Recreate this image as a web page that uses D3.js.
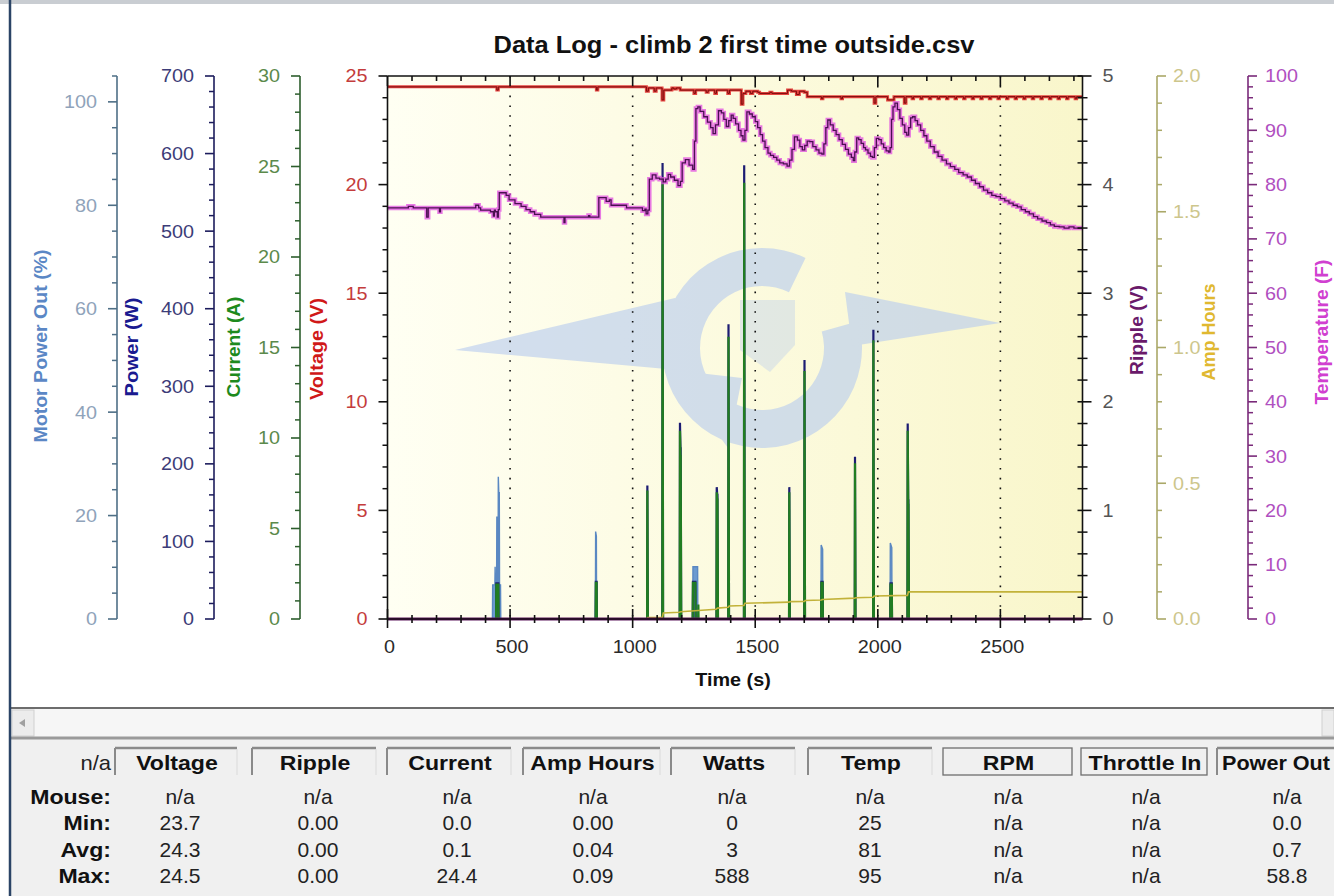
<!DOCTYPE html>
<html>
<head>
<meta charset="utf-8">
<script src="https://cdn.jsdelivr.net/npm/d3@7/dist/d3.min.js"></script>
<style>
html,body{margin:0;padding:0;background:#fff;}
svg{display:block;}
text{font-family:Arial,"Liberation Sans",Helvetica,sans-serif;}
</style>
</head>
<body>
<svg id="chart" width="1334" height="896"></svg>
<script>
// ---------------- data ----------------
const chartTitle = "Data Log - climb 2 first time outside.csv";
const timeDomain = [0, 2835];
const timeTicks = [0, 500, 1000, 1500, 2000, 2500];

// [time s, volts]
const voltageSeries = [[0,24.5],[446,24.35],[452,24.5],[852,24.35],[858,24.5],[1056,24.3],[1064,24.45],[1088,24.3],[1096,24.45],[1120,23.9],[1127,24.35],[1160,24.45],[1168,24.4],[1178,24.45],[1194,24.35],[1250,24.2],[1257,24.35],[1300,24.25],[1308,24.35],[1335,24.2],[1342,24.35],[1388,24.2],[1395,24.35],[1443,23.7],[1450,24.2],[1462,24.3],[1480,24.2],[1490,24.3],[1510,24.25],[1518,24.2],[1560,24.25],[1568,24.2],[1632,24.35],[1648,24.3],[1668,24.15],[1680,24.3],[1700,24.25],[1712,24.05],[1770,23.95],[1776,24.05],[1850,23.95],[1856,24.05],[1985,23.75],[1992,24.05],[2040,23.9],[2066,24.05],[2108,23.75],[2115,24.05],[2140,23.95],[2146,24.05],[2175,23.95],[2181,24.05],[2210,23.95],[2216,24.05],[2245,23.95],[2251,24.05],[2280,23.95],[2286,24.05],[2315,23.95],[2321,24.05],[2350,23.95],[2356,24.05],[2385,23.95],[2391,24.05],[2420,23.95],[2426,24.05],[2455,23.95],[2461,24.05],[2490,23.95],[2496,24.05],[2525,23.95],[2531,24.05],[2560,23.95],[2566,24.05],[2595,23.95],[2601,24.05],[2630,23.95],[2636,24.05],[2665,23.95],[2671,24.05],[2700,23.95],[2706,24.05],[2735,23.95],[2741,24.05],[2770,23.95],[2776,24.05],[2805,23.95],[2811,24.05],[2835,24.05]];

// [time s, deg F]
const temperatureSeries = [[0,75.7],[80,75.7],[85,76.0],[105,75.7],[160,74.0],[166,75.7],[212,75.0],[216,75.7],[350,75.7],[360,76.2],[372,75.7],[380,75.3],[420,75.0],[432,74.2],[436,75.3],[440,75.0],[448,74.0],[452,75.4],[456,78.5],[476,78.5],[484,78.0],[496,77.2],[520,76.5],[545,76.0],[565,75.4],[582,75.0],[600,74.5],[625,74.0],[715,74.0],[720,73.0],[724,74.0],[815,74.0],[820,74.3],[825,74.0],[855,74.0],[862,77.6],[888,77.6],[892,76.9],[905,77.2],[912,76.2],[960,76.2],[975,75.7],[1030,75.7],[1040,75.2],[1050,75.5],[1055,74.6],[1062,75.3],[1068,81.0],[1080,81.8],[1095,81.2],[1110,81.0],[1125,80.5],[1135,81.0],[1145,81.9],[1155,81.4],[1170,80.8],[1185,79.8],[1195,80.6],[1202,84.0],[1215,84.6],[1230,83.6],[1245,82.8],[1252,88.0],[1258,94.0],[1266,94.3],[1275,93.5],[1290,92.5],[1305,91.5],[1318,90.5],[1328,89.4],[1338,91.0],[1350,93.6],[1362,93.2],[1372,92.0],[1382,90.7],[1392,91.8],[1402,92.8],[1410,92.2],[1420,91.2],[1432,90.0],[1442,89.0],[1450,88.2],[1458,90.0],[1466,93.4],[1476,93.0],[1488,92.5],[1500,91.6],[1510,90.5],[1520,89.2],[1530,88.0],[1540,86.8],[1552,85.8],[1562,85.4],[1575,85.0],[1588,84.5],[1600,84.0],[1615,83.8],[1630,83.4],[1640,84.5],[1650,86.5],[1660,88.8],[1672,88.2],[1682,87.0],[1692,86.4],[1702,87.2],[1712,88.0],[1722,87.9],[1735,87.0],[1748,86.4],[1760,85.8],[1772,85.6],[1780,87.5],[1788,90.5],[1796,91.9],[1806,91.0],[1818,90.0],[1830,89.2],[1842,88.3],[1855,87.4],[1868,86.5],[1880,85.6],[1892,85.0],[1900,84.4],[1906,86.0],[1914,88.6],[1922,88.3],[1932,87.6],[1942,86.8],[1950,86.4],[1960,85.8],[1970,85.2],[1978,85.0],[1986,86.8],[1994,88.5],[2004,88.3],[2014,87.5],[2024,86.8],[2034,86.2],[2044,86.0],[2050,86.8],[2056,92.0],[2062,94.3],[2070,95.0],[2080,93.8],[2090,92.2],[2100,91.0],[2110,89.6],[2118,89.1],[2126,90.5],[2134,92.3],[2142,92.5],[2152,91.8],[2162,91.0],[2175,90.0],[2188,89.0],[2200,88.0],[2214,87.0],[2230,86.0],[2246,85.2],[2262,84.5],[2280,83.8],[2296,83.3],[2314,82.8],[2330,82.2],[2348,81.8],[2365,81.4],[2382,80.8],[2398,80.2],[2415,79.6],[2431,79.0],[2448,78.5],[2465,78.0],[2482,77.8],[2500,77.4],[2518,77.0],[2535,76.6],[2552,76.2],[2569,75.9],[2585,75.4],[2602,75.0],[2618,74.6],[2635,74.1],[2652,73.7],[2670,73.3],[2688,73.0],[2704,72.6],[2720,72.3],[2740,72.2],[2760,72.0],[2780,72.2],[2800,72.0],[2835,72.0]];

// [time s, amps]
const currentSeries = [[0,0],[443,0],[444,1.9],[452,1.9],[453,0],[849,0],[850,2.0],[853,2.0],[854,0],[1059,0],[1060,7.1],[1062,0],[1121,0],[1122,24.4],[1124,0],[1192,0],[1193,10.4],[1195,9.0],[1196,9.0],[1198,0],[1245,0],[1246,2.0],[1256,2.0],[1257,0],[1267,0],[1268,0.8],[1269,0],[1342,0],[1343,7.0],[1345,6.6],[1346,6.6],[1348,0],[1390,0],[1391,15.6],[1393,0],[1454,0],[1455,24.1],[1457,0],[1638,0],[1639,7.0],[1641,0],[1700,0],[1701,13.7],[1703,0],[1769,0],[1770,2.0],[1775,2.0],[1776,0],[1906,0],[1907,8.6],[1909,0],[1981,0],[1982,15.4],[1984,0],[2051,0],[2052,1.9],[2057,1.9],[2058,0],[2121,0],[2122,10.4],[2124,6.3],[2125,6.3],[2127,0],[2835,0]];

// [time s, watts]
const wattsSeries = [[0,0],[443,0],[444,46],[452,46],[453,0],[849,0],[850,48],[853,48],[854,0],[1059,0],[1060,172],[1062,0],[1121,0],[1122,588],[1124,0],[1192,0],[1193,253],[1195,220],[1196,220],[1198,0],[1245,0],[1246,48],[1256,48],[1257,0],[1342,0],[1343,170],[1345,160],[1346,160],[1348,0],[1390,0],[1391,380],[1393,0],[1454,0],[1455,585],[1457,0],[1638,0],[1639,170],[1641,0],[1700,0],[1701,334],[1703,0],[1769,0],[1770,48],[1775,48],[1776,0],[1906,0],[1907,209],[1909,0],[1981,0],[1982,373],[1984,0],[2051,0],[2052,46],[2057,46],[2058,0],[2121,0],[2122,252],[2124,153],[2125,153],[2127,0],[2835,0]];

// [time s, motor power out %]
const powerOutSeries = [[0,0],[428,0],[429,6.6],[438,6.6],[439,10.1],[440,6.6],[445,6.6],[446,19.8],[447,6.6],[451,6.6],[452,27.5],[454,24.4],[456,24.4],[457,6.6],[461,6.6],[462,0],[848,0],[849,16.9],[852,16.0],[853,0],[1059,0],[1060,8.9],[1061,0],[1245,0],[1246,10.1],[1265,10.1],[1266,0],[1390,0],[1391,8.1],[1392,0],[1454,0],[1455,7.0],[1456,0],[1768,0],[1769,14.3],[1775,13.5],[1776,0],[2050,0],[2051,14.7],[2057,13.8],[2058,0],[2835,0]];

// [time s, amp hours]
const ampHoursSeries = [[0,0],[1058,0],[1062,0.005],[1121,0.006],[1125,0.022],[1190,0.025],[1196,0.027],[1340,0.036],[1346,0.04],[1390,0.043],[1394,0.048],[1454,0.05],[1458,0.058],[1638,0.062],[1642,0.064],[1700,0.065],[1704,0.068],[1770,0.07],[1774,0.072],[1906,0.077],[1910,0.078],[1981,0.08],[1985,0.085],[2121,0.087],[2125,0.1],[2835,0.1]];

// [time s, ripple volts]
const rippleSeries = [[0,0],[2835,0]];

const tableHeaders = ["Voltage","Ripple","Current","Amp Hours","Watts","Temp","RPM","Throttle In","Power Out"];
const tableRowLabels = ["Mouse:","Min:","Avg:","Max:"];
const mouseRow = ["n/a","n/a","n/a","n/a","n/a","n/a","n/a","n/a","n/a"];
const minRow   = ["23.7","0.00","0.0","0.00","0","25","n/a","n/a","0.0"];
const avgRow   = ["24.3","0.00","0.1","0.04","3","81","n/a","n/a","0.7"];
const maxRow   = ["24.5","0.00","24.4","0.09","588","95","n/a","n/a","58.8"];

// ---------------- layout ----------------
const svg = d3.select("#chart");
const SX = 1.1;
const hs = x => `matrix(${SX},0,0,1,${x*(1-SX)},0)`;
const PL = 387.5, PR = 1082.5, PT = 76, PB = 619;

const x = d3.scaleLinear().domain(timeDomain).range([PL, PR]);
const yVolt = d3.scaleLinear().domain([0,25]).range([PB,PT]);
const yPow = d3.scaleLinear().domain([0,700]).range([PB,PT]);
const yCur = d3.scaleLinear().domain([0,30]).range([PB,PT]);
const yMot = d3.scaleLinear().domain([0,105]).range([PB,PT]);
const yRip = d3.scaleLinear().domain([0,5]).range([PB,PT]);
const yAh  = d3.scaleLinear().domain([0,2]).range([PB,PT]);
const yTmp = d3.scaleLinear().domain([0,100]).range([PB,PT]);

// window frame
svg.append("rect").attr("x",0).attr("y",0).attr("width",1334).attr("height",896).attr("fill","#fff");
svg.append("rect").attr("x",0).attr("y",0).attr("width",1334).attr("height",4).attr("fill","#c9cdd2");
svg.append("rect").attr("x",11).attr("y",709).attr("width",1323).attr("height",28).attr("fill","#f6f6f6");
svg.append("rect").attr("x",12).attr("y",710).attr("width",22).attr("height",26).attr("fill","#ececec").attr("stroke","#d0d0d0");
svg.append("path").attr("d","M19,723 L25,719 L25,727 Z").attr("fill","#a0a0a0");
svg.append("rect").attr("x",1322).attr("y",710).attr("width",12).attr("height",26).attr("fill","#ececec").attr("stroke","#d0d0d0");
svg.append("line").attr("x1",10).attr("x2",1334).attr("y1",708).attr("y2",708).attr("stroke","#3c3c3c").attr("stroke-width",1.5);
svg.append("rect").attr("x",11).attr("y",737).attr("width",1323).attr("height",159).attr("fill","#f0f0f0");
svg.append("line").attr("x1",10).attr("x2",1334).attr("y1",738).attr("y2",738).attr("stroke","#9a9a9a").attr("stroke-width",3);
svg.append("line").attr("x1",10).attr("x2",10).attr("y1",0).attr("y2",896).attr("stroke","#2b4466").attr("stroke-width",2.5);

// plot background gradient
const defs = svg.append("defs");
const grad = defs.append("linearGradient").attr("id","bg").attr("x1","0").attr("x2","1").attr("y1","0").attr("y2","0");
grad.append("stop").attr("offset","0").attr("stop-color","#fffff3");
grad.append("stop").attr("offset","1").attr("stop-color","#f9f6cb");
svg.append("rect").attr("x",PL).attr("y",PT).attr("width",PR-PL).attr("height",PB-PT).attr("fill","url(#bg)");

// watermark logo (decorative)
const wm = svg.append("g").attr("fill","#b8ccef").attr("opacity",0.62);
wm.append("path").attr("transform","translate(762,348)")
  .attr("d", d3.arc()({innerRadius:62, outerRadius:100, startAngle:1.3, endAngle:2*Math.PI+0.45}));
wm.append("path").attr("d","M455,350 L675,298 L700,320 L700,372 Z");
wm.append("path").attr("d","M690,372 L742,378 L728,448 L706,418 Z");
wm.append("path").attr("d","M845,292 L1000,323 L852,346 Z");
wm.append("path").attr("d","M740,300 L795,300 L795,345 L770,372 L740,350 Z").attr("opacity",0.6);

// dotted gridlines
svg.append("g").selectAll("line").data(timeTicks.filter(d => d > 0)).join("line")
  .attr("x1", d => x(d)).attr("x2", d => x(d)).attr("y1", PT).attr("y2", PB)
  .attr("stroke","#111").attr("stroke-width",1.6).attr("stroke-dasharray","1.6,8.2");

// ---------------- series ----------------
const plot = svg.append("g");
const line = (ys, curve) => d3.line().x(d => x(d[0])).y(d => ys(d[1])).curve(curve || d3.curveLinear);

plot.append("path").datum(powerOutSeries)
  .attr("d", d3.area().x(d => x(d[0])).y0(PB).y1(d => yMot(d[1])))
  .attr("fill","#6b9ad0").attr("stroke","#5a88c2").attr("stroke-width",1.4);
plot.append("path").datum(wattsSeries).attr("d", line(yPow))
  .attr("fill","none").attr("stroke","#1c1c72").attr("stroke-width",2.2);
plot.append("path").datum(currentSeries).attr("d", line(yCur))
  .attr("fill","none").attr("stroke","#217d21").attr("stroke-width",2.2);
plot.append("path").datum(ampHoursSeries).attr("d", line(yAh))
  .attr("fill","none").attr("stroke","#c2b23a").attr("stroke-width",1.6);
plot.append("path").datum(rippleSeries).attr("d", line(yRip))
  .attr("fill","none").attr("stroke","#5e1a5e").attr("stroke-width",3);
plot.append("path").datum(voltageSeries).attr("d", line(yVolt, d3.curveStepAfter))
  .attr("fill","none").attr("stroke","#e02424").attr("stroke-width",3).attr("opacity",0.85);
plot.append("path").datum(voltageSeries).attr("d", line(yVolt, d3.curveStepAfter))
  .attr("fill","none").attr("stroke","#7a0a0a").attr("stroke-width",1);
plot.append("path").datum(temperatureSeries).attr("d", line(yTmp, d3.curveStepAfter))
  .attr("fill","none").attr("stroke","#e04ee0").attr("stroke-width",4.5).attr("opacity",0.75);
plot.append("path").datum(temperatureSeries).attr("d", line(yTmp, d3.curveStepAfter))
  .attr("fill","none").attr("stroke","#4a1050").attr("stroke-width",1.3);

// ---------------- axes ----------------
function vAxis(o) {
  const g = svg.append("g");
  const [d0, d1] = o.scale.domain();
  const minors = d3.range(d0, d1 + 1e-9, o.minorStep)
    .filter(v => !o.majors.some(m => Math.abs(m - v) < 1e-6));
  const s = o.side === "left" ? -1 : 1;
  const inner = o.inner || 0;
  g.append("line").attr("x1",o.x).attr("x2",o.x).attr("y1",o.scale(d0)).attr("y2",o.scale(d1))
    .attr("stroke",o.lineColor).attr("stroke-width",1.6);
  g.selectAll("line.mn").data(minors).join("line").attr("class","mn")
    .attr("x1", o.x - s*inner).attr("x2", o.x + s*5)
    .attr("y1", d => o.scale(d)).attr("y2", d => o.scale(d))
    .attr("stroke",o.lineColor).attr("stroke-width",1.5);
  g.selectAll("line.mj").data(o.majors).join("line").attr("class","mj")
    .attr("x1", o.x - s*inner).attr("x2", o.x + s*9)
    .attr("y1", d => o.scale(d)).attr("y2", d => o.scale(d))
    .attr("stroke",o.lineColor).attr("stroke-width",1.6);
  const tx = o.x + s*o.gap;
  g.selectAll("text").data(o.majors).join("text")
    .attr("x", tx).attr("y", d => o.scale(d) + 6.5)
    .attr("text-anchor", s < 0 ? "end" : "start")
    .attr("transform", hs(tx))
    .attr("font-size", 18).attr("fill", o.textColor)
    .text(o.fmt || d3.format("d"));
}
function vTitle(str, bx, cy, len, color) {
  svg.append("text").attr("transform",`translate(${bx},${cy}) rotate(-90)`)
    .attr("text-anchor","middle").attr("font-weight","bold").attr("font-size",19)
    .attr("fill",color).attr("textLength",len).attr("lengthAdjust","spacingAndGlyphs").text(str);
}

vAxis({scale:yMot, x:117, side:"left", majors:[0,20,40,60,80,100], minorStep:5, lineColor:"#4e6f86", textColor:"#8fa3ba", gap:20});
vAxis({scale:yPow, x:214, side:"left", majors:d3.range(0,701,100), minorStep:20, lineColor:"#1c1c5c", textColor:"#3c3c78", gap:20});
vAxis({scale:yCur, x:300, side:"left", majors:d3.range(0,31,5), minorStep:1, lineColor:"#2d5e2d", textColor:"#5b8a4b", gap:20});
vAxis({scale:yVolt, x:PL, side:"left", majors:d3.range(0,26,5), minorStep:1, lineColor:"#111", textColor:"#c43c3c", gap:20});
vAxis({scale:yRip, x:PR, side:"right", majors:[0,1,2,3,4,5], minorStep:0.2, lineColor:"#111", textColor:"#555", gap:20, inner:5});
vAxis({scale:yAh, x:1157, side:"right", majors:[0,0.5,1,1.5,2], minorStep:0.1, lineColor:"#aaa868", textColor:"#cdc68c", gap:16, fmt:d3.format(".1f")});
vAxis({scale:yTmp, x:1248, side:"right", majors:d3.range(0,101,10), minorStep:2, lineColor:"#7a2a7a", textColor:"#b050c0", gap:17});

vTitle("Motor Power Out (%)", 47, 346, 193, "#5b87c5");
vTitle("Power (W)", 138, 347, 99, "#1a1a90");
vTitle("Current (A)", 240, 347, 101, "#1d8a1d");
vTitle("Voltage (V)", 323, 349, 102, "#d01818");
vTitle("Ripple (V)", 1143, 330, 90, "#6a1a6a");
vTitle("Amp Hours", 1215, 332, 97, "#e0b830");
vTitle("Temperature (F)", 1328, 332, 145, "#d040d0");

// time axis (bottom) and top frame
const xg = svg.append("g");
const xMinors = d3.range(0, timeDomain[1], 100).filter(v => v % 500 !== 0);
xg.append("line").attr("x1",PL).attr("x2",PR).attr("y1",PB).attr("y2",PB).attr("stroke","#2a0d2a").attr("stroke-width",1.8);
xg.append("line").attr("x1",PL).attr("x2",PR).attr("y1",PT).attr("y2",PT).attr("stroke","#111").attr("stroke-width",1.6);
xg.selectAll("line.bmn").data(xMinors).join("line").attr("class","bmn")
  .attr("x1",d=>x(d)).attr("x2",d=>x(d)).attr("y1",PB-4).attr("y2",PB+4).attr("stroke","#111").attr("stroke-width",1.6);
xg.selectAll("line.bmj").data(timeTicks).join("line").attr("class","bmj")
  .attr("x1",d=>x(d)).attr("x2",d=>x(d)).attr("y1",PB-10).attr("y2",PB+9).attr("stroke","#111").attr("stroke-width",1.6);
xg.selectAll("line.tmn").data(xMinors).join("line").attr("class","tmn")
  .attr("x1",d=>x(d)).attr("x2",d=>x(d)).attr("y1",PT).attr("y2",PT+5).attr("stroke","#111").attr("stroke-width",1.6);
xg.selectAll("line.tmj").data(timeTicks).join("line").attr("class","tmj")
  .attr("x1",d=>x(d)).attr("x2",d=>x(d)).attr("y1",PT).attr("y2",PT+10).attr("stroke","#111").attr("stroke-width",1.6);
xg.selectAll("text").data(timeTicks).join("text")
  .attr("x",d=>x(d)+2).attr("y",653).attr("text-anchor","middle")
  .attr("transform",d=>hs(x(d)+2)).attr("font-size",18).attr("fill","#2a2a2a").text(d3.format("d"));
svg.append("text").attr("x",733).attr("y",686).attr("text-anchor","middle").attr("transform",hs(733))
  .attr("font-size",18).attr("font-weight","bold").attr("fill","#111").text("Time (s)");

// title
svg.append("text").attr("x",734).attr("y",53).attr("text-anchor","middle")
  .attr("font-size",23).attr("font-weight","bold").attr("fill","#111")
  .attr("textLength",481).attr("lengthAdjust","spacingAndGlyphs").text(chartTitle);

// ---------------- stats table ----------------
const boxL = [115,252,387,523,671,808,943,1081,1217];
const boxR = [237,376,511,660,795,932,1072,1207,1345];
const colC = [180,318,457,593,732,870,1008,1146,1287];
const fullBorder = [false,false,false,false,false,false,true,true,false];
const tb = svg.append("g");
tableHeaders.forEach((h,i) => {
  const g = tb.append("g");
  g.append("rect").attr("x",boxL[i]).attr("y",748).attr("width",boxR[i]-boxL[i]).attr("height",27)
    .attr("fill","#f0f0f0").attr("stroke", fullBorder[i] ? "#6e6e6e" : "none").attr("stroke-width",1.3);
  if (!fullBorder[i]) {
    g.append("line").attr("x1",boxL[i]).attr("x2",boxR[i]).attr("y1",748).attr("y2",748).attr("stroke","#8a8a8a").attr("stroke-width",2.5);
    g.append("line").attr("x1",boxL[i]).attr("x2",boxL[i]).attr("y1",748).attr("y2",775).attr("stroke","#8a8a8a").attr("stroke-width",2);
    g.append("line").attr("x1",boxR[i]).attr("x2",boxR[i]).attr("y1",749).attr("y2",775).attr("stroke","#dadada").attr("stroke-width",1);
  }
  const last = i === tableHeaders.length - 1;
  const tx = last ? boxL[i] + 5 : (boxL[i] + boxR[i]) / 2 + 1;
  const t = g.append("text").attr("x",tx).attr("y",770).attr("text-anchor", last ? "start" : "middle")
    .attr("font-size",21).attr("font-weight","bold").attr("fill","#111").text(h);
  if (last) t.attr("textLength",108).attr("lengthAdjust","spacingAndGlyphs");
  else t.attr("transform",hs(tx));
});
tb.append("text").attr("x",111).attr("y",770).attr("text-anchor","end").attr("transform",hs(111))
  .attr("font-size",20).attr("fill","#222").text("n/a");
const rowsY = [804,830,857,883];
const rows = [mouseRow, minRow, avgRow, maxRow];
tableRowLabels.forEach((lab,r) => {
  tb.append("text").attr("x",111).attr("y",rowsY[r]).attr("text-anchor","end").attr("transform",hs(111))
    .attr("font-size",21).attr("font-weight","bold").attr("fill","#111").text(lab);
  rows[r].forEach((v,i) => {
    tb.append("text").attr("x",colC[i]).attr("y",rowsY[r]).attr("text-anchor","middle")
      .attr("font-size",21).attr("fill","#222").text(v);
  });
});
</script>
</body>
</html>
